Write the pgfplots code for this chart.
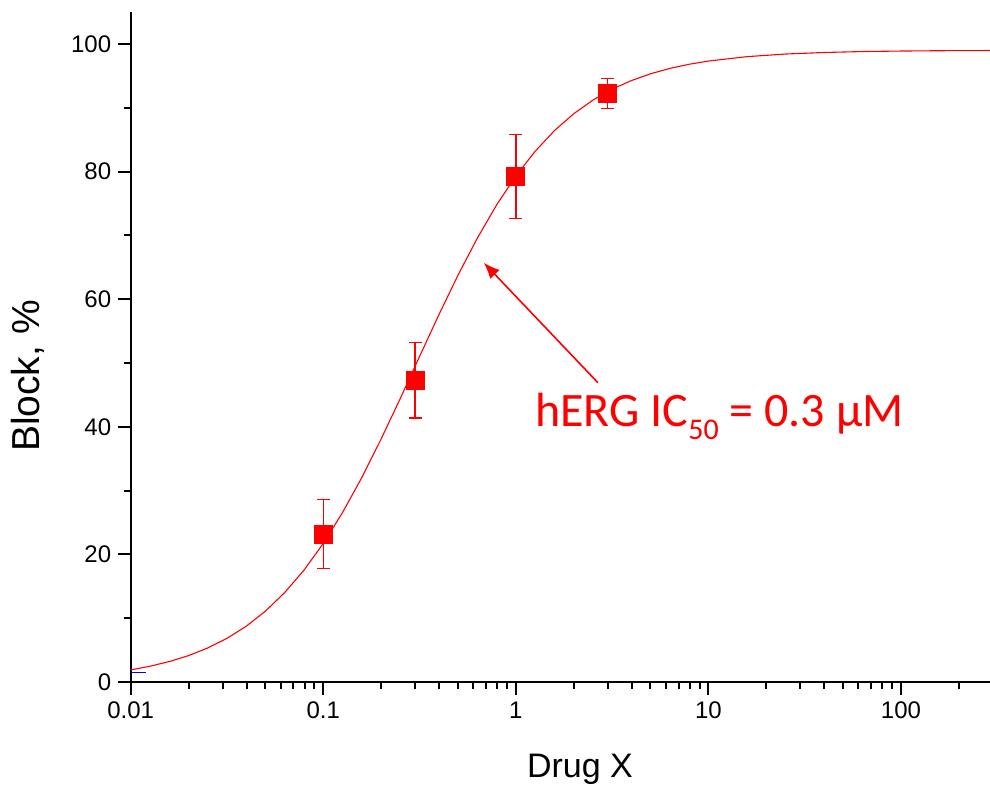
\documentclass[border=0pt]{standalone}
\usepackage{fontspec}
\setmainfont{Liberation Sans}
\newfontfamily\carlito{Carlito}
\usepackage{pgfplots}
\pgfplotsset{compat=1.18}
\usetikzlibrary{arrows.meta}
\definecolor{fitred}{RGB}{255,0,0}

% measured block (mean and error) at each concentration
\pgfplotstableread{
x    y     err
0.1  23.2  5.4
0.3  47.3  5.9
1    79.2  6.6
3    92.2  2.35
}\measured

% fitted concentration-response curve
\pgfplotstableread{
x         y
0.01      1.90
0.012589  2.47
0.015849  3.20
0.019953  4.13
0.025119  5.33
0.031623  6.84
0.039811  8.74
0.050119  11.11
0.063096  14.02
0.079433  17.53
0.1       21.71
0.12589   26.55
0.15849   32.03
0.19953   38.05
0.25119   44.43
0.31623   51.01
0.39811   57.52
0.50119   63.77
0.63096   69.55
0.79433   74.75
1         79.29
1.2589    83.16
1.5849    86.39
1.9953    89.04
2.5119    91.18
3.1623    92.90
3.9811    94.25
5.0119    95.32
6.3096    96.16
7.9433    96.81
10        97.31
15.849    98.00
25.119    98.41
39.811    98.65
63.096    98.80
100       98.88
158.49    98.93
290       98.96
}\fitcurve

\begin{document}
\begin{tikzpicture}
\begin{axis}[
  scale only axis,
  width=429.65pt, height=335pt,
  xmode=log, log basis x=10,
  xmin=0.01, xmax=290, ymin=0, ymax=105,
  axis x line=bottom, axis y line=left,
  axis line style={line width=1pt, black, -},
  every major tick/.style={line width=1pt, black},
  every minor tick/.style={line width=1pt, black},
  major tick length=6.3pt, minor tick length=3.6pt,
  xtick align=outside, ytick align=outside,
  xtick={0.01,0.1,1,10,100},
  xticklabels={0.01,0.1,1,10,100},
  minor xtick={0.02,0.03,0.04,0.05,0.06,0.07,0.08,0.09,
               0.2,0.3,0.4,0.5,0.6,0.7,0.8,0.9,
               2,3,4,5,6,7,8,9,
               20,30,40,50,60,70,80,90,200},
  ytick={0,20,40,60,80,100},
  minor y tick num=1,
  /pgf/number format/assume math mode=true,
  tick label style={font=\fontsize{12}{12}\selectfont},
  xlabel={Drug X},
  ylabel={Block, \%},
  xlabel style={font=\fontsize{17}{17}\selectfont, anchor=base, at={(axis description cs:0.5229,-0.1418)}},
  ylabel style={font=\fontsize{19.5}{19.5}\selectfont, anchor=center, at={(axis description cs:-0.1195,0.4567)}},
]
  % short baseline marker
  \addplot[blue, line width=0.8pt, forget plot] coordinates {(0.01,1.5) (0.012,1.5)};

  \addplot[fitred, line width=0.55pt, no marks] table[x=x, y=y] {\fitcurve};

  \addplot[fitred, only marks, mark=square*, mark size=4.5pt,
    mark options={fill=fitred, draw=fitred},
    error bars/.cd, y dir=both, y explicit,
    error bar style={draw=fitred, line width=0.7pt},
    error mark options={rotate=90, mark size=3.25pt, line width=0.7pt, draw=fitred}]
    table[x=x, y=y, y error=err] {\measured};

  \draw[fitred, line width=0.8pt, -{Latex[length=8pt,width=6.5pt]}]
    (axis cs:2.67,46.9) -- (axis cs:0.682,65.7);
  \node[anchor=base west, inner sep=0pt, text=fitred,
        font=\carlito\fontsize{24}{24}\selectfont]
    at (axis cs:1.256,40)
    {hERG IC\raisebox{-6.5pt}{\fontsize{15}{15}\selectfont 50} = 0.3 µM};
\end{axis}
\pgfresetboundingbox
\useasboundingbox (-65.35pt,-52pt) rectangle (429.65pt,341pt);
\end{tikzpicture}
\end{document}
